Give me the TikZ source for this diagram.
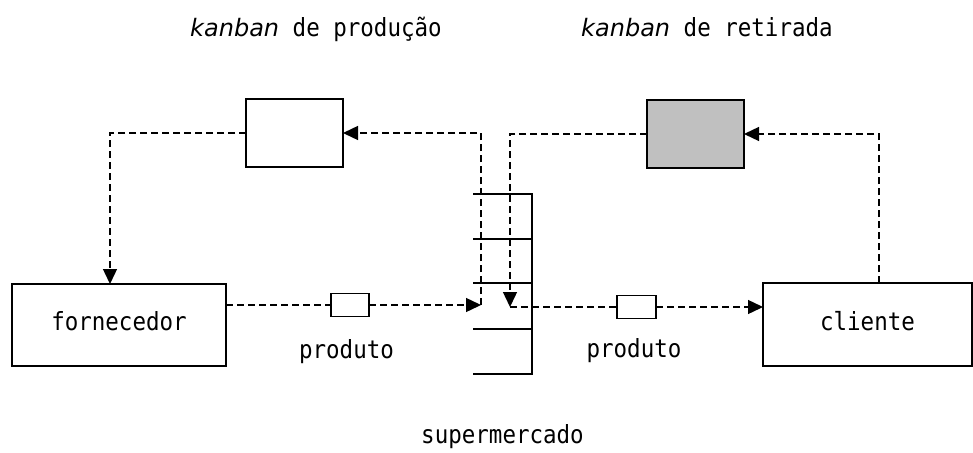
\documentclass[tikz,border=0pt]{standalone}
\usepackage{fontspec}
\setmainfont{DejaVu Sans Mono}[FakeStretch=0.9]
\newfontfamily\kanfont{DejaVu Sans}
\usepackage{tikz}
\usetikzlibrary{arrows.meta}
\definecolor{kgray}{RGB}{192,192,192}
\newcommand{\kbword}{\kanfont\itshape\fontsize{24pt}{28pt}\selectfont kanban}

\begin{document}
\begin{tikzpicture}[x=1pt, y=-1pt,
  txt/.style={font=\fontsize{25pt}{30pt}\selectfont, inner sep=0pt},
  box/.style={txt, draw, line width=1.5pt, outer sep=0pt, text height=16pt, text depth=5pt},
  flow/.style={dash pattern=on 7pt off 4pt, line width=1.4pt},
  >={Triangle[length=15pt,width=14pt]}]
\useasboundingbox (0,0) rectangle (973,452);
\node[box, minimum width=214pt, minimum height=82pt] (forn) at (119,325) {fornecedor};
\node[box, minimum width=209pt, minimum height=83pt] (cli) at (867.5,324.5) {cliente};
\node[box, minimum width=97pt, minimum height=68pt] (kp) at (294.5,133) {};
\node[box, fill=kgray, minimum width=97pt, minimum height=68pt] (kr) at (695.5,134) {};
\node[box, minimum width=38pt, minimum height=23pt] (p1) at (350,305) {};
\node[box, minimum width=39pt, minimum height=23pt] (p2) at (636.5,307) {};
\node[txt, anchor=base west] (t1) at (190,37) {{\kbword} de produção};
\node[txt, anchor=base west] (t2) at (581,37) {{\kbword} de retirada};
\node[txt, anchor=base] (l1) at (346.5,358) {produto};
\node[txt, anchor=base] (l2) at (634,357) {produto};
\node[txt, anchor=base] (sm) at (502.5,443) {supermercado};
% supermercado shelves
\draw[line width=1.5pt] (473,194) -- (532,194) -- (532,374) -- (473,374);
\foreach \y in {239,283,329} \draw[line width=1.5pt] (473,\y) -- (532,\y);
\coordinate (sin) at (481,305);
\coordinate (sout) at (510,307);
\draw[flow] (forn.east |- p1) -- (p1.west);
\draw[flow, ->] (p1.east) -- (sin);
\draw[flow, ->] (sin) |- (kp.east);
\draw[flow, ->] (kp.west) -| ([xshift=-9pt]forn.north);
\draw[flow, ->] (kr.west) -| (sout);
\draw[flow] (sout) -- (p2.west);
\draw[flow, ->] (p2.east) -- (p2.east -| cli.west);
\draw[flow, ->] ([xshift=11.5pt]cli.north) |- (kr.east);
\end{tikzpicture}
\end{document}
